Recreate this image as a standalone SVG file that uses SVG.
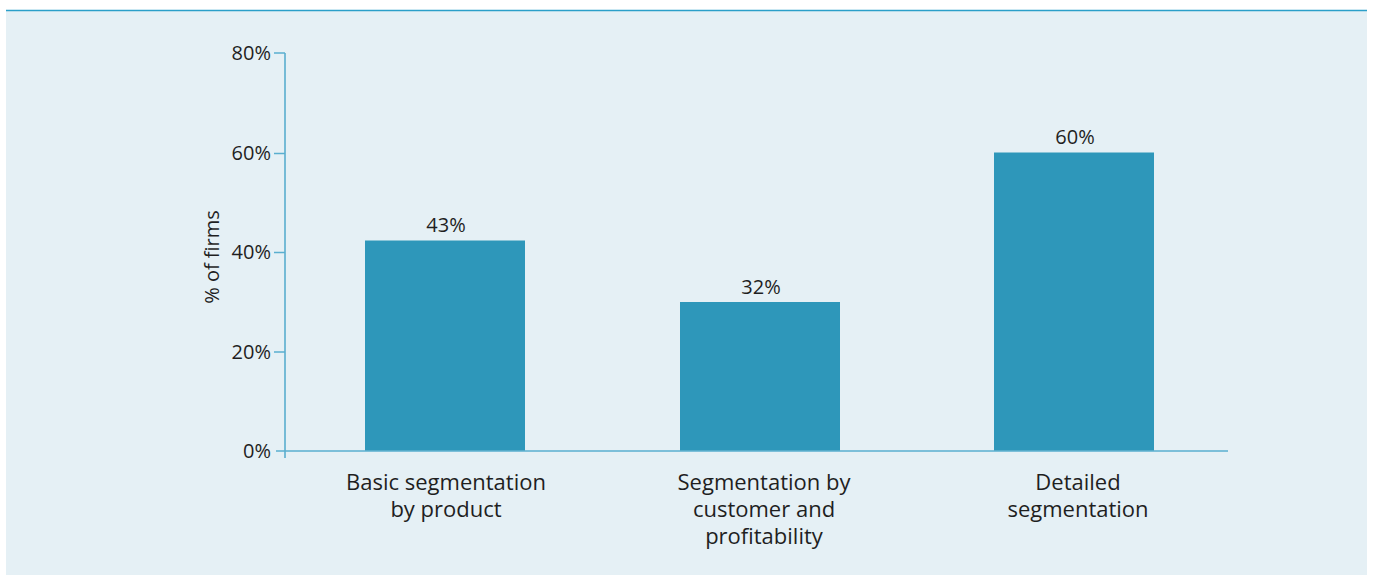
<svg xmlns="http://www.w3.org/2000/svg" width="1378" height="575" viewBox="0 0 1378 575">
<style>
text{font-family:"Open Sans","Noto Sans","Liberation Sans",sans-serif;font-size:20px;fill:#1f1f1f;font-weight:400}
.tick{text-anchor:end}
.c{text-anchor:middle}
.cat{font-size:22px}
.bar{fill:#2E97BA}
.ax{stroke:#5AAECF;stroke-width:1.6;fill:none}
</style>
<rect x="0" y="0" width="1378" height="575" fill="#ffffff"/>
<rect id="panel" x="6" y="10" width="1361" height="565" fill="#E5F0F5"/>
<line x1="6" y1="10.5" x2="1367" y2="10.5" stroke="#2B9FC9" stroke-width="1.5"/>
<g id="axes">
<path class="ax" d="M285,53 V458 M274,53 H285 M274,153.5 H285 M274,252.5 H285 M274,352 H285 M276,451 H1228"/>
<text class="tick" x="271" y="60">80%</text>
<text class="tick" x="271" y="160">60%</text>
<text class="tick" x="271" y="259">40%</text>
<text class="tick" x="271" y="359">20%</text>
<text class="tick" x="271" y="458">0%</text>
<text class="c" transform="translate(219,257) rotate(-90)">% of firms</text>
</g>
<g id="bar1">
<rect class="bar" x="365" y="240.5" width="160" height="210"/>
<text class="c" x="446" y="232">43%</text>
<text class="c cat" x="446" y="490">Basic segmentation</text>
<text class="c cat" x="446" y="517">by product</text>
</g>
<g id="bar2">
<rect class="bar" x="680" y="302" width="160" height="148.5"/>
<text class="c" x="761" y="294">32%</text>
<text class="c cat" x="764" y="490">Segmentation by</text>
<text class="c cat" x="764" y="517">customer and</text>
<text class="c cat" x="764" y="544">profitability</text>
</g>
<g id="bar3">
<rect class="bar" x="994" y="152.5" width="160" height="298"/>
<text class="c" x="1075" y="144">60%</text>
<text class="c cat" x="1078" y="490">Detailed</text>
<text class="c cat" x="1078" y="517">segmentation</text>
</g>
</svg>
